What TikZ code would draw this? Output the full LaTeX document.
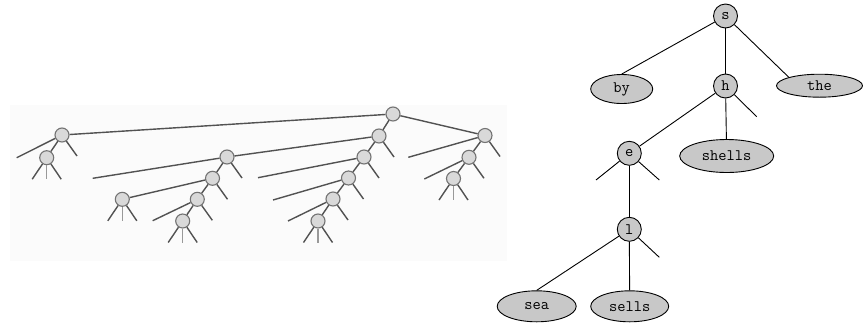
\documentclass[tikz,border=0pt]{standalone}
\usepackage{tikz}
\usetikzlibrary{shapes.geometric, positioning}
\definecolor{nodegray}{RGB}{200,200,200}
\tikzset{%
   % character node of the ternary search trie
   cn/.style={
      circle,
      draw,
      fill=nodegray,
      inner sep=0pt,
      minimum size=24pt,
      font=\ttfamily\fontsize{16}{16}\selectfont
   },
   % word (leaf) node
   wn/.style={
      ellipse,
      draw,
      fill=nodegray,
      inner sep=0pt,
      line width=0.9pt,
      font=\ttfamily\fontsize{16}{16}\selectfont
   },
   % the small, blurred trie on the left
   bn/.style={
      circle,
      draw=black!55,
      fill=black!15,
      line width=1.1pt,
      inner sep=0pt,
      minimum size=14pt
   },
   bl/.style={
      draw=black!68,
      line width=1.4pt
   },
   bm/.style={
      draw=black!40,
      line width=1.4pt
   },
}

\begin{document}
\begin{tikzpicture}[x=1pt, y=-1pt, line width=0.9pt]
   \useasboundingbox (0,0) rectangle (867,322);
   \fill[black!1.5] (10,105) rectangle (507,261);

   % left: the large trie
   \node[bn] (R)  at (393,114) {};
   \node[bn] (A)  at (62,135) {};
   \node[bn] (H)  at (46.7,157.7) {};
   \node[bn] (B1) at (379,136) {};
   \node[bn] (B2) at (364,157) {};
   \node[bn] (B3) at (348.5,178) {};
   \node[bn] (B4) at (333,199) {};
   \node[bn] (B5) at (318,221) {};
   \node[bn] (C)  at (227,157) {};
   \node[bn] (D)  at (212.5,178.3) {};
   \node[bn] (E)  at (122.3,199.3) {};
   \node[bn] (F)  at (197.3,199.3) {};
   \node[bn] (G)  at (182.7,221) {};
   \node[bn] (T)  at (485,135.5) {};
   \node[bn] (U)  at (469,157.3) {};
   \node[bn] (V)  at (453.5,178.5) {};

   \coordinate (A-l)  at (16.7,157.7);
   \coordinate (B2-l) at (258,177.7);
   \coordinate (B3-l) at (273,200);
   \coordinate (B4-l) at (288,221);
   \coordinate (C-l)  at (92.7,178.3);
   \coordinate (F-l)  at (152.7,220.7);
   \coordinate (T-l)  at (408.3,157.3);
   \coordinate (U-l)  at (424.3,179);

   \draw[bl] (R) -- (A);
   \draw[bl] (R) -- (B1);
   \draw[bl] (R) -- (T);
   \draw[bl] (A) -- (A-l);
   \draw[bl] (A) -- (H);
   \draw[bl] (B1) -- (C);
   \draw[bl] (B1) -- (B2);
   \draw[bl] (B2) -- (B2-l);
   \draw[bl] (B2) -- (B3);
   \draw[bl] (B3) -- (B3-l);
   \draw[bl] (B3) -- (B4);
   \draw[bl] (B4) -- (B4-l);
   \draw[bl] (B4) -- (B5);
   \draw[bl] (C) -- (C-l);
   \draw[bl] (C) -- (D);
   \draw[bl] (D) -- (E);
   \draw[bl] (D) -- (F);
   \draw[bl] (F) -- (F-l);
   \draw[bl] (F) -- (G);
   \draw[bl] (T) -- (T-l);
   \draw[bl] (T) -- (U);
   \draw[bl] (U) -- (U-l);
   \draw[bl] (U) -- (V);

   \foreach \n in {A,B1,B2,B3,B4,C,D,F,T,U} {
      \path (\n) ++(15,21) coordinate (\n-r);
      \draw[bl] (\n) -- (\n-r);
   }
   \foreach \n in {H,B5,E,G,V} {
      \path (\n) ++(-14.5,21.5) coordinate (\n-1)
            ++(14.5,0) coordinate (\n-2)
            ++(14.5,0) coordinate (\n-3);
      \draw[bl] (\n) -- (\n-1);
      \draw[bm] (\n) -- (\n-2);
      \draw[bl] (\n) -- (\n-3);
   }

   % right: the ternary search trie
   \node[cn] (s) at (725.5,16) {s};
   \node[cn] (h) at (725.5,86) {h};
   \node[cn] (e) at (629.3,153.3) {e};
   \node[cn] (l) at (629.3,229.3) {l};
   \node[wn, minimum width=62pt, minimum height=29pt] (by) at (621.7,89) {by};
   \node[wn, minimum width=86pt, minimum height=23pt] (the) at (819.5,85.7) {the};
   \node[wn, minimum width=94pt, minimum height=33pt] (shells) at (726.7,156) {shells};
   \node[wn, minimum width=79pt, minimum height=31pt] (sea) at (536.7,306.3) {sea};
   \node[wn, minimum width=78pt, minimum height=31pt] (sells) at (629.7,306.3) {sells};

   \coordinate (h-r) at (756.7,116.7);
   \coordinate (e-l) at (596,180);
   \coordinate (e-r) at (659.3,180);
   \coordinate (l-r) at (659.3,257.3);

   \draw (s) -- (by.north);
   \draw (s) -- (h);
   \draw (s) -- (the.north west);
   \draw (h) -- (e);
   \draw (h) -- (shells);
   \draw (h) -- (h-r);
   \draw (e) -- (e-l);
   \draw (e) -- (l);
   \draw (e) -- (e-r);
   \draw (l) -- (sea.north);
   \draw (l) -- (sells);
   \draw (l) -- (l-r);
\end{tikzpicture}
\end{document}
